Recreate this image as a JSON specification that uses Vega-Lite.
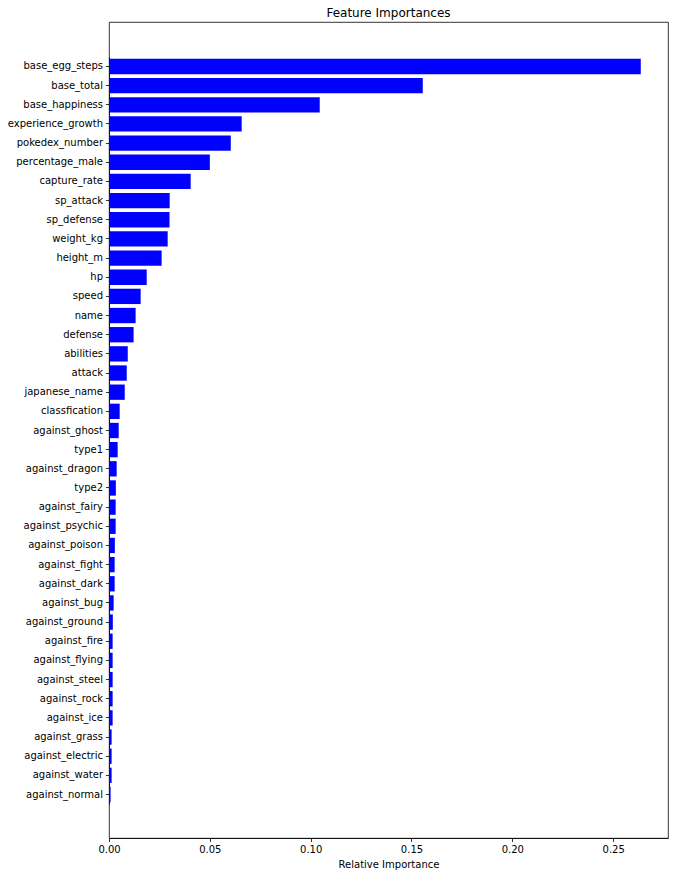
{
  "$schema": "https://vega.github.io/schema/vega-lite/v6.json",
  "autosize": {"type": "none"},
  "padding": {"left": 109, "top": 22, "right": 6, "bottom": 38},
  "width": 559,
  "height": 816,
  "background": "white",
  "title": {"text": "Feature Importances", "fontSize": 12, "fontWeight": "normal", "font": "DejaVu Sans", "color": "black", "anchor": "middle", "offset": 2},
  "config": {
    "view": {"stroke": "#000000", "strokeWidth": 0.8},
    "axis": {"labelFont": "DejaVu Sans", "titleFont": "DejaVu Sans", "labelFontSize": 10, "titleFontSize": 10, "labelColor": "black", "titleColor": "black", "domainColor": "black", "tickColor": "black", "domainWidth": 0.8, "tickWidth": 0.8, "tickSize": 3.5, "grid": false, "titleFontWeight": "normal"}
  },
  "data": {"values": [
    {"feature": "base_egg_steps", "importance": 0.2637},
    {"feature": "base_total", "importance": 0.1556},
    {"feature": "base_happiness", "importance": 0.1045},
    {"feature": "experience_growth", "importance": 0.0658},
    {"feature": "pokedex_number", "importance": 0.0604},
    {"feature": "percentage_male", "importance": 0.0500},
    {"feature": "capture_rate", "importance": 0.0405},
    {"feature": "sp_attack", "importance": 0.0301},
    {"feature": "sp_defense", "importance": 0.0300},
    {"feature": "weight_kg", "importance": 0.0291},
    {"feature": "height_m", "importance": 0.0261},
    {"feature": "hp", "importance": 0.0187},
    {"feature": "speed", "importance": 0.0157},
    {"feature": "name", "importance": 0.0132},
    {"feature": "defense", "importance": 0.0122},
    {"feature": "abilities", "importance": 0.0093},
    {"feature": "attack", "importance": 0.0088},
    {"feature": "japanese_name", "importance": 0.0078},
    {"feature": "classfication", "importance": 0.0053},
    {"feature": "against_ghost", "importance": 0.0048},
    {"feature": "type1", "importance": 0.0043},
    {"feature": "against_dragon", "importance": 0.0038},
    {"feature": "type2", "importance": 0.0034},
    {"feature": "against_fairy", "importance": 0.0033},
    {"feature": "against_psychic", "importance": 0.0033},
    {"feature": "against_poison", "importance": 0.0029},
    {"feature": "against_fight", "importance": 0.0028},
    {"feature": "against_dark", "importance": 0.0028},
    {"feature": "against_bug", "importance": 0.0023},
    {"feature": "against_ground", "importance": 0.0019},
    {"feature": "against_fire", "importance": 0.0018},
    {"feature": "against_flying", "importance": 0.0018},
    {"feature": "against_steel", "importance": 0.0018},
    {"feature": "against_rock", "importance": 0.0018},
    {"feature": "against_ice", "importance": 0.0018},
    {"feature": "against_grass", "importance": 0.0013},
    {"feature": "against_electric", "importance": 0.0013},
    {"feature": "against_water", "importance": 0.0013},
    {"feature": "against_normal", "importance": 0.0008}
  ]},
  "mark": {"type": "bar", "color": "#0000ff"},
  "encoding": {
    "y": {"field": "feature", "type": "nominal", "sort": null,
          "scale": {"paddingInner": 0.2, "paddingOuter": 0.1, "range": [34.9, 782.1]},
          "axis": {"title": null, "labelPadding": 3}},
    "x": {"field": "importance", "type": "quantitative",
          "scale": {"domain": [0, 0.2772], "nice": false, "zero": true},
          "axis": {"title": "Relative Importance", "values": [0, 0.05, 0.1, 0.15, 0.2, 0.25], "format": ".2f", "labelPadding": 3, "titlePadding": 5, "labelFlush": false}}
  }
}
